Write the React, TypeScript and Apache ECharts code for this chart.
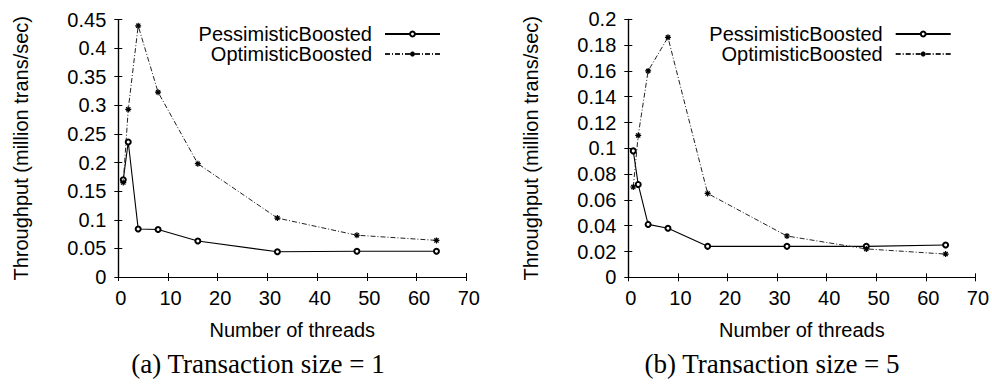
import React, { useEffect, useRef } from "react";
import * as echarts from "echarts";

const threads = [1, 2, 4, 8, 16, 32, 48, 64];
const pessimisticA = [0.17, 0.236, 0.084, 0.083, 0.063, 0.044, 0.045, 0.045];
const optimisticA = [0.165, 0.293, 0.439, 0.323, 0.198, 0.103, 0.073, 0.064];
const pessimisticB = [0.098, 0.072, 0.041, 0.038, 0.024, 0.024, 0.024, 0.025];
const optimisticB = [0.07, 0.11, 0.16, 0.186, 0.065, 0.032, 0.022, 0.018];
const seriesNames = ["PessimisticBoosted", "OptimisticBoosted"];
const captions = ["(a) Transaction size = 1", "(b) Transaction size = 5"];
const xTitle = "Number of threads";
const yTitle = "Throughput (million trans/sec)";

const FONT = "Liberation Sans";
const STAR = "path://M0,5L10,5M5,0L5,10M1.5,1.5L8.5,8.5M8.5,1.5L1.5,8.5";

function pairs(xs: number[], ys: number[]) {
  return xs.map((x, i) => [x, ys[i]]);
}

export default function App() {
  const ref = useRef<HTMLDivElement>(null);
  useEffect(() => {
    if (!ref.current) return;
    const chart = echarts.init(ref.current, undefined, { renderer: "svg" });
    const grids = [
      { left: 118.3, top: 19.5, width: 348, height: 257.5 },
      { left: 628.3, top: 19.3, width: 347.4, height: 258 },
    ];
    const yMax = [0.45, 0.2];
    const yInt = [0.05, 0.02];
    const xAxes: any[] = [];
    const yAxes: any[] = [];
    [0, 1].forEach((g) => {
      const common = {
        gridIndex: g,
        type: "value",
        splitLine: { show: false },
        axisLine: { lineStyle: { color: "#000", width: 1.2 } },
        axisTick: { inside: true, length: 4, lineStyle: { color: "#000", width: 1 } },
      };
      xAxes.push({
        ...common,
        position: "bottom",
        min: 0,
        max: 70,
        interval: 10,
        axisLabel: { color: "#000", fontFamily: FONT, fontSize: 20, margin: 11, padding: [0, 0, 0, 5] },
        name: xTitle,
        nameLocation: "middle",
        nameGap: 43,
        nameTextStyle: { color: "#000", fontFamily: FONT, fontSize: 20 },
      });
      xAxes.push({
        ...common,
        position: "top",
        min: 0,
        max: 70,
        interval: 10,
        axisLabel: { show: false },
      });
      yAxes.push({
        ...common,
        position: "left",
        min: 0,
        max: yMax[g],
        interval: yInt[g],
        axisLabel: { color: "#000", fontFamily: FONT, fontSize: 20, margin: 12 },
        name: yTitle,
        nameLocation: "middle",
        nameRotate: 90,
        nameGap: 87,
        nameTextStyle: { color: "#000", fontFamily: FONT, fontSize: 20 },
      });
      yAxes.push({
        ...common,
        position: "right",
        min: 0,
        max: yMax[g],
        interval: yInt[g],
        axisLabel: { show: false },
      });
    });

    const pessStyle = {
      type: "line",
      name: seriesNames[0],
      symbol: "emptyCircle",
      symbolSize: 5,
      lineStyle: { color: "#000", width: 1.1, type: "solid" },
      itemStyle: { color: "#000", borderColor: "#000", borderWidth: 1 },
    };
    const optStyle = {
      type: "line",
      name: seriesNames[1],
      symbol: STAR,
      symbolSize: 6,
      lineStyle: { color: "#222", width: 1, type: [5, 2, 1, 2] },
      itemStyle: { color: "#000", borderColor: "#000", borderWidth: 1.2 },
    };

    const series = [
      { ...pessStyle, xAxisIndex: 0, yAxisIndex: 0, data: pairs(threads, pessimisticA) },
      { ...optStyle, xAxisIndex: 0, yAxisIndex: 0, data: pairs(threads, optimisticA) },
      { ...pessStyle, xAxisIndex: 2, yAxisIndex: 2, data: pairs(threads, pessimisticB) },
      { ...optStyle, xAxisIndex: 2, yAxisIndex: 2, data: pairs(threads, optimisticB) },
    ];

    const legendCommon = {
      orient: "vertical",
      align: "right",
      data: seriesNames,
      itemWidth: 55,
      itemHeight: 6,
      itemGap: 0,
      padding: 0,
      selectedMode: false,
      textStyle: { color: "#000", fontFamily: FONT, fontSize: 20, padding: [0, 8, 0, 0] },
    };

    const captionStyle = (text: string) => ({
      text,
      font: '27px "Liberation Serif"',
      fill: "#000",
      textAlign: "center",
      textVerticalAlign: "middle",
    });

    chart.setOption({
      animation: false,
      backgroundColor: "#fff",
      grid: grids,
      xAxis: xAxes,
      yAxis: yAxes,
      series,
      legend: [
        { ...legendCommon, right: 551, top: 24 },
        { ...legendCommon, right: 40.3, top: 24 },
      ],
      graphic: [
        { type: "text", x: 258, y: 364, style: captionStyle(captions[0]) },
        { type: "text", x: 772, y: 364, style: captionStyle(captions[1]) },
      ],
    });
    return () => chart.dispose();
  }, []);
  return (
    <div
      ref={ref}
      style={{ position: "absolute", left: 0, top: 0, width: 992, height: 388 }}
    />
  );
}
